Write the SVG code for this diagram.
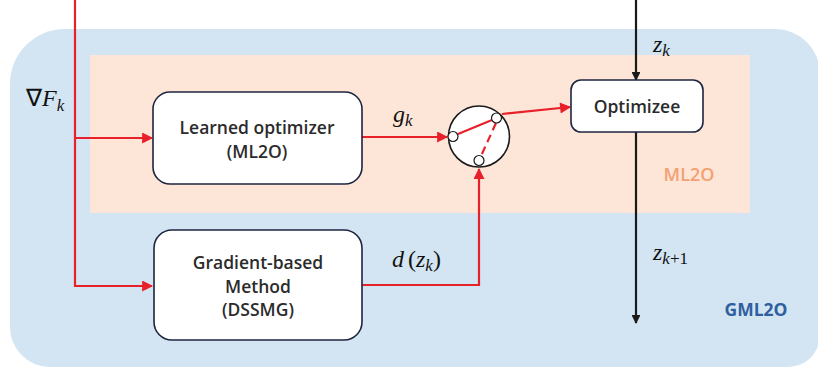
<svg xmlns="http://www.w3.org/2000/svg" width="818" height="369" viewBox="0 0 818 369">
<style>
.box{fill:#fff;stroke:#1e2540;stroke-width:1.6}
.lbl{font-family:"Open Sans","Liberation Sans",sans-serif;font-weight:600;font-size:17.5px;fill:#2b2b2b;text-anchor:middle}
.math{font-family:"Liberation Serif",serif;font-style:italic;font-size:24px;fill:#111}
.sub{font-family:"Liberation Serif",serif;font-style:italic;font-size:17px;fill:#111}
.num{font-family:"Liberation Serif",serif;font-style:normal;font-size:17px;fill:#111}
.red{stroke:#e8202a;stroke-width:2.2;fill:none}
.blk{stroke:#1a1a1a;stroke-width:2.2;fill:none}
</style>
<defs>
<marker id="ar" viewBox="0 0 10 10" refX="9" refY="5" markerWidth="5.5" markerHeight="5" orient="auto" markerUnits="strokeWidth"><path d="M0,0 L10,5 L0,10 z" fill="#e8202a"/></marker>
<marker id="ab" viewBox="0 0 10 10" refX="9" refY="5" markerWidth="4.5" markerHeight="4" orient="auto" markerUnits="strokeWidth"><path d="M0,0 L10,5 L0,10 z" fill="#1a1a1a"/></marker>
</defs>
<g id="gml2o">
<path d="M65,29 H775 A45,45 0 0 1 820,74 V335 A32,32 0 0 1 788,367 H50 A40,40 0 0 1 10,327 V84 A55,55 0 0 1 65,29 Z" fill="#d3e5f2"/>
<text x="756" y="316" font-family="'Open Sans','Liberation Sans',sans-serif" font-weight="700" font-size="17.5" fill="#2f5f9f" text-anchor="middle">GML2O</text>
</g>
<g id="ml2o">
<rect x="90" y="55" width="660" height="158" fill="#fde6d8"/>
<text x="689" y="181" font-family="'Open Sans','Liberation Sans',sans-serif" font-weight="600" font-size="18" fill="#f4a071" text-anchor="middle">ML2O</text>
</g>
<g id="connectors">
<path class="red" d="M75,0 V286 H152" marker-end="url(#ar)"/>
<path class="red" d="M75,138 H152" marker-end="url(#ar)"/>
<path class="red" d="M362,137 H447" marker-end="url(#ar)"/>
<path class="red" d="M362,285 H479 V169" marker-end="url(#ar)"/>
<path class="red" d="M502,114 L570,107" marker-end="url(#ar)"/>
<path class="blk" d="M636,0 V80" marker-end="url(#ab)"/>
<path class="blk" d="M636,132 V323" marker-end="url(#ab)"/>
</g>
<g id="learned">
<rect class="box" x="153" y="92" width="209" height="92" rx="17"/>
<text class="lbl" x="257" y="134">Learned optimizer</text>
<text class="lbl" x="257" y="158">(ML2O)</text>
</g>
<g id="gradient">
<rect class="box" x="154" y="230" width="208" height="110" rx="18"/>
<text class="lbl" x="258" y="269">Gradient-based</text>
<text class="lbl" x="258" y="293">Method</text>
<text class="lbl" x="258" y="316">(DSSMG)</text>
</g>
<g id="optimizee">
<rect class="box" x="571" y="80" width="132" height="52" rx="10"/>
<text class="lbl" x="637" y="113">Optimizee</text>
</g>
<g id="switch">
<circle cx="479" cy="136.5" r="30.5" fill="#fff" stroke="#1a1a1a" stroke-width="1.6"/>
<line class="red" x1="458" y1="134" x2="492" y2="120"/>
<line class="red" x1="496" y1="123" x2="481" y2="156" stroke-dasharray="8,5"/>
<circle cx="453" cy="136.5" r="5" fill="#fff" stroke="#1a1a1a" stroke-width="1.2"/>
<circle cx="496.5" cy="118" r="5" fill="#fff" stroke="#1a1a1a" stroke-width="1.2"/>
<circle cx="479" cy="160.5" r="5" fill="#fff" stroke="#1a1a1a" stroke-width="1.2"/>
</g>
<g id="labels">
<text x="26" y="106" class="math"><tspan font-style="normal">∇</tspan>F<tspan class="sub" dy="5">k</tspan></text>
<text x="393" y="122" class="math">g<tspan class="sub" dy="4">k</tspan></text>
<text x="392" y="267" class="math">d<tspan font-style="normal" dx="4">(</tspan>z<tspan class="sub" dy="4">k</tspan><tspan font-style="normal" dy="-4">)</tspan></text>
<text x="653" y="52" class="math">z<tspan class="sub" dy="4">k</tspan></text>
<text x="653" y="260" class="math">z<tspan class="sub" dy="4">k</tspan><tspan class="num">+1</tspan></text>
</g>
</svg>
